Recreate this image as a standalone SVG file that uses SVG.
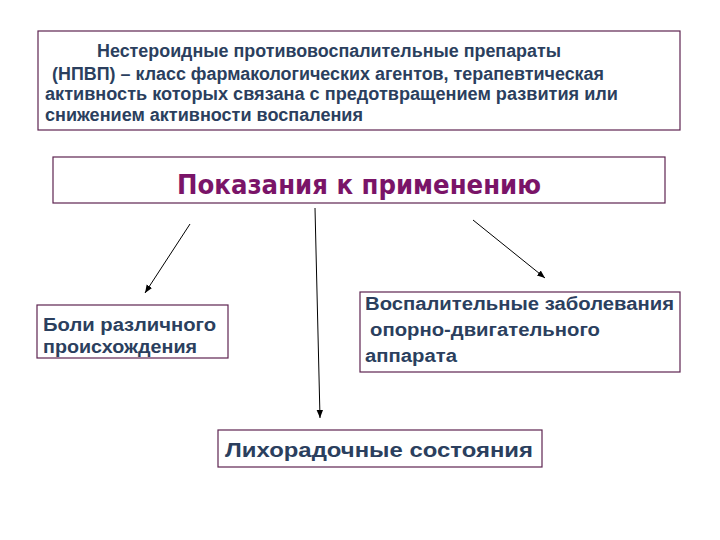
<svg xmlns="http://www.w3.org/2000/svg" width="720" height="540" viewBox="0 0 720 540">
<style>
.box{fill:#fff;stroke:#5e2450;stroke-width:1.2}
.t{font-family:"Liberation Sans",Arial,sans-serif;font-weight:bold;fill:#2b3f5e}
.head{font-family:"DejaVu Sans Condensed","DejaVu Sans","Liberation Sans",sans-serif;font-weight:bold;fill:#7a1468;font-size:27px}
.c{stroke:#000;stroke-width:1;fill:none;marker-end:url(#ah)}
</style>
<defs>
<marker id="ah" viewBox="0 0 10 10" refX="10" refY="5" markerWidth="8" markerHeight="8" orient="auto" markerUnits="userSpaceOnUse">
<path d="M0,1 L10,5 L0,9 z" fill="#000"/>
</marker>
</defs>
<rect width="720" height="540" fill="#fff"/>
<g id="definition">
<rect class="box" x="38" y="31" width="642" height="99"/>
<text class="t" font-size="17.5" x="97" y="57" textLength="464" lengthAdjust="spacingAndGlyphs">Нестероидные противовоспалительные препараты</text>
<text class="t" font-size="17.5" x="52" y="80" textLength="552" lengthAdjust="spacingAndGlyphs">(НПВП) –  класс фармакологических агентов, терапевтическая</text>
<text class="t" font-size="17.5" x="45" y="100" textLength="573" lengthAdjust="spacingAndGlyphs">активность которых связана с  предотвращением развития или</text>
<text class="t" font-size="17.5" x="45" y="121" textLength="318" lengthAdjust="spacingAndGlyphs">снижением активности воспаления</text>
</g>
<g id="indications">
<rect class="box" x="53" y="157" width="612" height="46"/>
<text class="head" x="177" y="194" textLength="364" lengthAdjust="spacingAndGlyphs">Показания к применению</text>
</g>
<g id="pain">
<rect class="box" x="37" y="305" width="191" height="53"/>
<text class="t" font-size="18" x="43" y="331" textLength="173" lengthAdjust="spacingAndGlyphs">Боли различного</text>
<text class="t" font-size="18" x="43" y="353" textLength="154" lengthAdjust="spacingAndGlyphs">происхождения</text>
</g>
<g id="inflammatory">
<rect class="box" x="360" y="292" width="320" height="80"/>
<text class="t" font-size="18" x="365" y="310" textLength="309" lengthAdjust="spacingAndGlyphs">Воспалительные заболевания</text>
<text class="t" font-size="18" x="370" y="336" textLength="230" lengthAdjust="spacingAndGlyphs">опорно-двигательного</text>
<text class="t" font-size="18" x="365" y="362" textLength="92" lengthAdjust="spacingAndGlyphs">аппарата</text>
</g>
<g id="fever">
<rect class="box" x="218" y="430" width="324" height="37"/>
<text class="t" font-size="20" x="225" y="457" textLength="308" lengthAdjust="spacingAndGlyphs">Лихорадочные состояния</text>
</g>
<g id="connectors">
<line class="c" x1="190" y1="224" x2="145" y2="293"/>
<line class="c" x1="315" y1="208" x2="320" y2="418"/>
<line class="c" x1="473" y1="220" x2="545" y2="278"/>
</g>
</svg>
